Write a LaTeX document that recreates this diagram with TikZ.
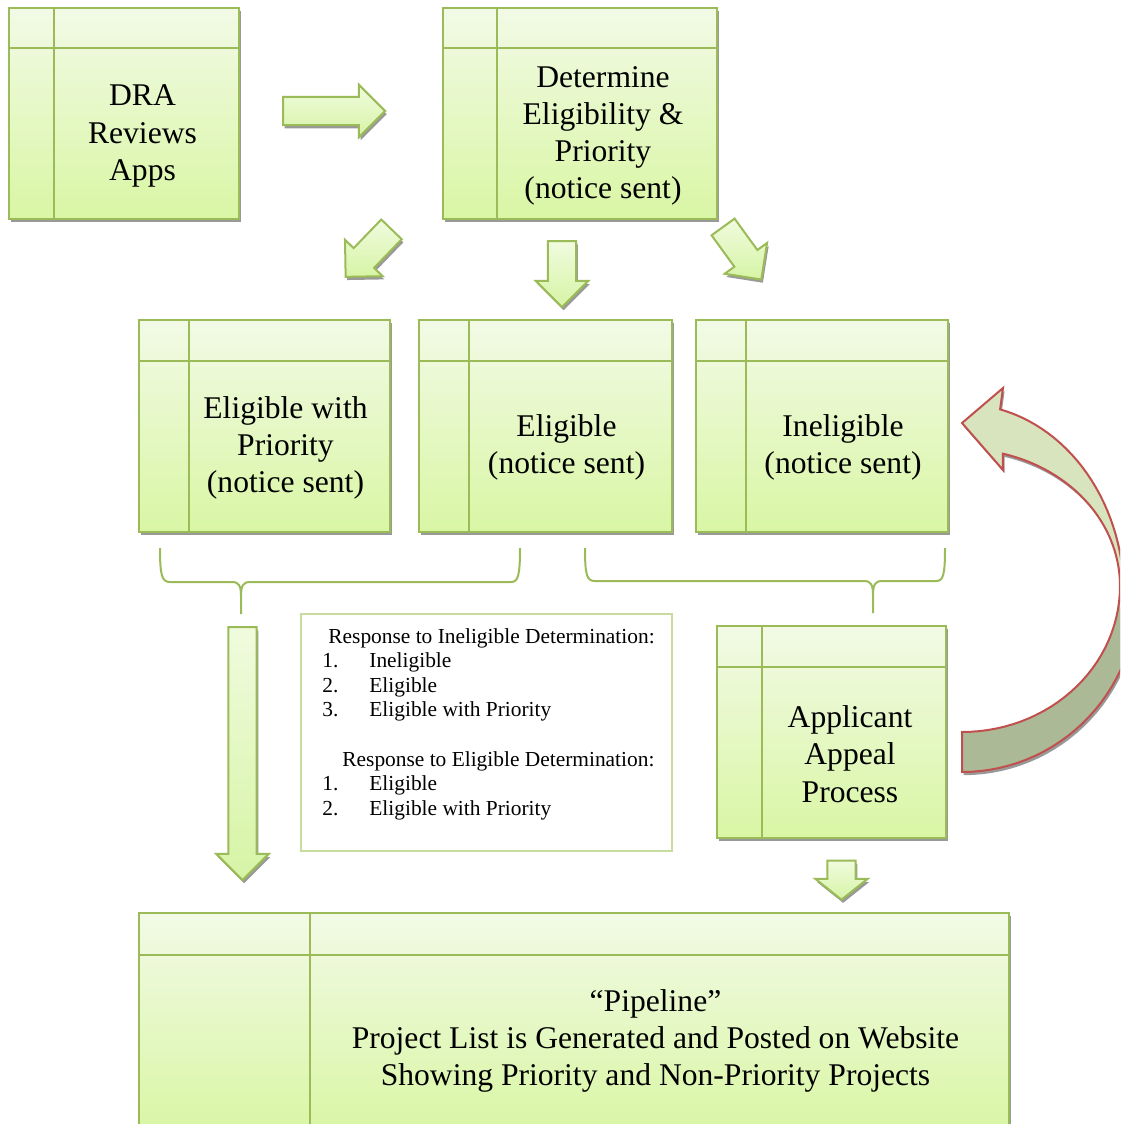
\documentclass[tikz,border=0pt]{standalone}
\usepackage{fontspec}
\setmainfont{Liberation Serif}
\usetikzlibrary{shapes.arrows, shadows, calc}

\definecolor{olivebd}{RGB}{155,187,89}
\definecolor{paneltop}{RGB}{242,250,230}
\definecolor{panelbot}{RGB}{217,246,164}
\definecolor{arrowtop}{RGB}{240,251,222}
\definecolor{arrowbot}{RGB}{214,244,165}
\definecolor{notebd}{RGB}{200,220,160}
\definecolor{loopred}{RGB}{192,80,77}
\definecolor{looplight}{RGB}{215,228,189}
\definecolor{loopdark}{RGB}{172,185,150}
\pgfdeclareverticalshading{loopshade}{100bp}{color(0bp)=(loopdark); color(47bp)=(loopdark); color(50bp)=(looplight); color(100bp)=(looplight)}

\tikzstyle{greyshadow} = [drop shadow={shadow xshift=0.8pt, shadow yshift=-1.6pt, fill=black!40, opacity=1}]
\tikzset{panel/.style 2 args={rectangle, draw=olivebd, line width=1pt, top color=paneltop, bottom color=panelbot, greyshadow, inner sep=0pt,
    path picture={
      \draw[olivebd, line width=1pt] ([xshift=#1]path picture bounding box.north west) -- ([xshift=#1]path picture bounding box.south west);
      \draw[olivebd, line width=1pt] ([yshift=-#2]path picture bounding box.north west) -- ([yshift=-#2]path picture bounding box.north east);}}}
\tikzstyle{paneltext} = [align=center, inner sep=0pt, font=\fontsize{15.8}{18.6}\selectfont]
\tikzstyle{blockarrow} = [single arrow, draw=olivebd, line width=1pt, top color=arrowtop, bottom color=arrowbot, inner xsep=0pt, inner ysep=6.6pt, minimum width=25.5pt, single arrow head extend=6pt, single arrow head indent=0pt, greyshadow]
\tikzstyle{brace} = [olivebd, line width=1pt]
\tikzstyle{notebox} = [rectangle, draw=notebd, line width=0.7pt, fill=white]
\tikzstyle{loopback} = [draw=loopred, line width=1pt, shade, shading=loopshade, drop shadow={shadow xshift=0.8pt, shadow yshift=-1.6pt, fill=black!40, opacity=1}]

\begin{document}
\begin{tikzpicture}[x=0.5pt, y=-0.5pt]
        \clip (0,0) rectangle (1120,1124);

        % panels
        \node (dra) [panel={22.5pt}{20pt}, minimum width=115pt, minimum height=105.5pt] at (124,113.5) {};
        \node (determine) [panel={27pt}{20pt}, minimum width=137pt, minimum height=105.5pt] at (580,113.5) {};
        \node (prio) [panel={25pt}{20.5pt}, minimum width=125.5pt, minimum height=106pt] at (264.5,426) {};
        \node (elig) [panel={25pt}{20.5pt}, minimum width=126.5pt, minimum height=106pt] at (545.5,426) {};
        \node (inelig) [panel={25pt}{20.5pt}, minimum width=126pt, minimum height=106pt] at (822,426) {};
        \node (appeal) [panel={22.5pt}{20.5pt}, minimum width=114.5pt, minimum height=106pt] at (831.5,732) {};
        \node (pipeline) [panel={85.5pt}{21pt}, minimum width=435pt, minimum height=110pt] at (574,1023) {};

        \node (dra_text) [paneltext] at (142.5,136) {DRA\\Reviews\\Apps};
        \node (determine_text) [paneltext] at (603,136) {Determine\\Eligibility \&\\Priority\\(notice sent)};
        \node (prio_text) [paneltext] at (285.5,448) {Eligible with\\Priority\\(notice sent)};
        \node (elig_text) [paneltext] at (566.5,447) {Eligible\\(notice sent)};
        \node (inelig_text) [paneltext] at (843,447) {Ineligible\\(notice sent)};
        \node (appeal_text) [paneltext] at (850,754) {Applicant\\Appeal\\Process};
        \node (pipeline_text) [paneltext] at (655.5,1041) {“Pipeline”\\Project List is Generated and Posted on Website\\Showing Priority and Non-Priority Projects};

        % block arrows
        \node (arr_review) [blockarrow, minimum height=51pt] at (327,111) {};
        \node (arr_prio) [blockarrow, minimum height=33pt, rotate=226] at (373.5,248) {};
        \node (arr_elig) [blockarrow, minimum height=33pt, rotate=-90] at (562,267) {};
        \node (arr_inelig) [blockarrow, minimum height=32.5pt, rotate=-54] at (738,247.5) {};
        \node (arr_list) [blockarrow, minimum height=126.5pt, rotate=-90] at (242.5,746.5) {};
        \node (arr_appeal) [blockarrow, minimum height=19.5pt, single arrow tip angle=103, rotate=-90] at (841.5,874.5) {};

        % braces
        \draw [brace] (160,548) .. controls (160,576) and (162,582) .. (170,582) -- (232,582) .. controls (239,582) and (241,586) .. (241,596) -- (241,614);
        \draw [brace] (241,596) .. controls (241,586) and (243,582) .. (250,582) -- (511,582) .. controls (518,582) and (520,576) .. (520,548);
        \draw [brace] (585,548) .. controls (585,576) and (587,581) .. (595,581) -- (864,581) .. controls (871,581) and (873,585) .. (873,595) -- (873,613);
        \draw [brace] (873,595) .. controls (873,585) and (875,581) .. (882,581) -- (936,581) .. controls (943,581) and (945,576) .. (945,548);

        % response notes
        \node (notes) [notebox, minimum width=185.5pt, minimum height=118.5pt] at (486.5,732.5) {};
        \node (notes_text) [anchor=base west, inner sep=0pt, font=\fontsize{10.7}{12.3}\selectfont] at (322,643) {%
          \begin{tabular}[t]{@{}p{23.5pt}@{}l@{}}
            \multicolumn{2}{@{}l@{}}{\hspace*{3pt}Response to Ineligible Determination:}\\
            1. & Ineligible\\
            2. & Eligible\\
            3. & Eligible with Priority\\
            \multicolumn{2}{@{}l@{}}{}\\
            \multicolumn{2}{@{}l@{}}{\hspace*{10pt}Response to Eligible Determination:}\\
            1. & Eligible\\
            2. & Eligible with Priority
          \end{tabular}};

        % appeal loop back to ineligible
        \path [loopback] plot[domain=90:0, samples=30] ({962+175*cos(\x)}, {595+177*sin(\x)})
          -- plot[domain=0:-76.4, samples=30] ({962+162*cos(\x)}, {595+191*sin(\x)})
          -- (1003,388) -- (962,423) -- (1003,470)
          -- plot[domain=-75:0, samples=30] ({962+158*cos(\x)}, {586+137*sin(\x)})
          -- plot[domain=0:90, samples=30] ({962+158*cos(\x)}, {586+146*sin(\x)}) -- cycle;

\end{tikzpicture}
\end{document}
